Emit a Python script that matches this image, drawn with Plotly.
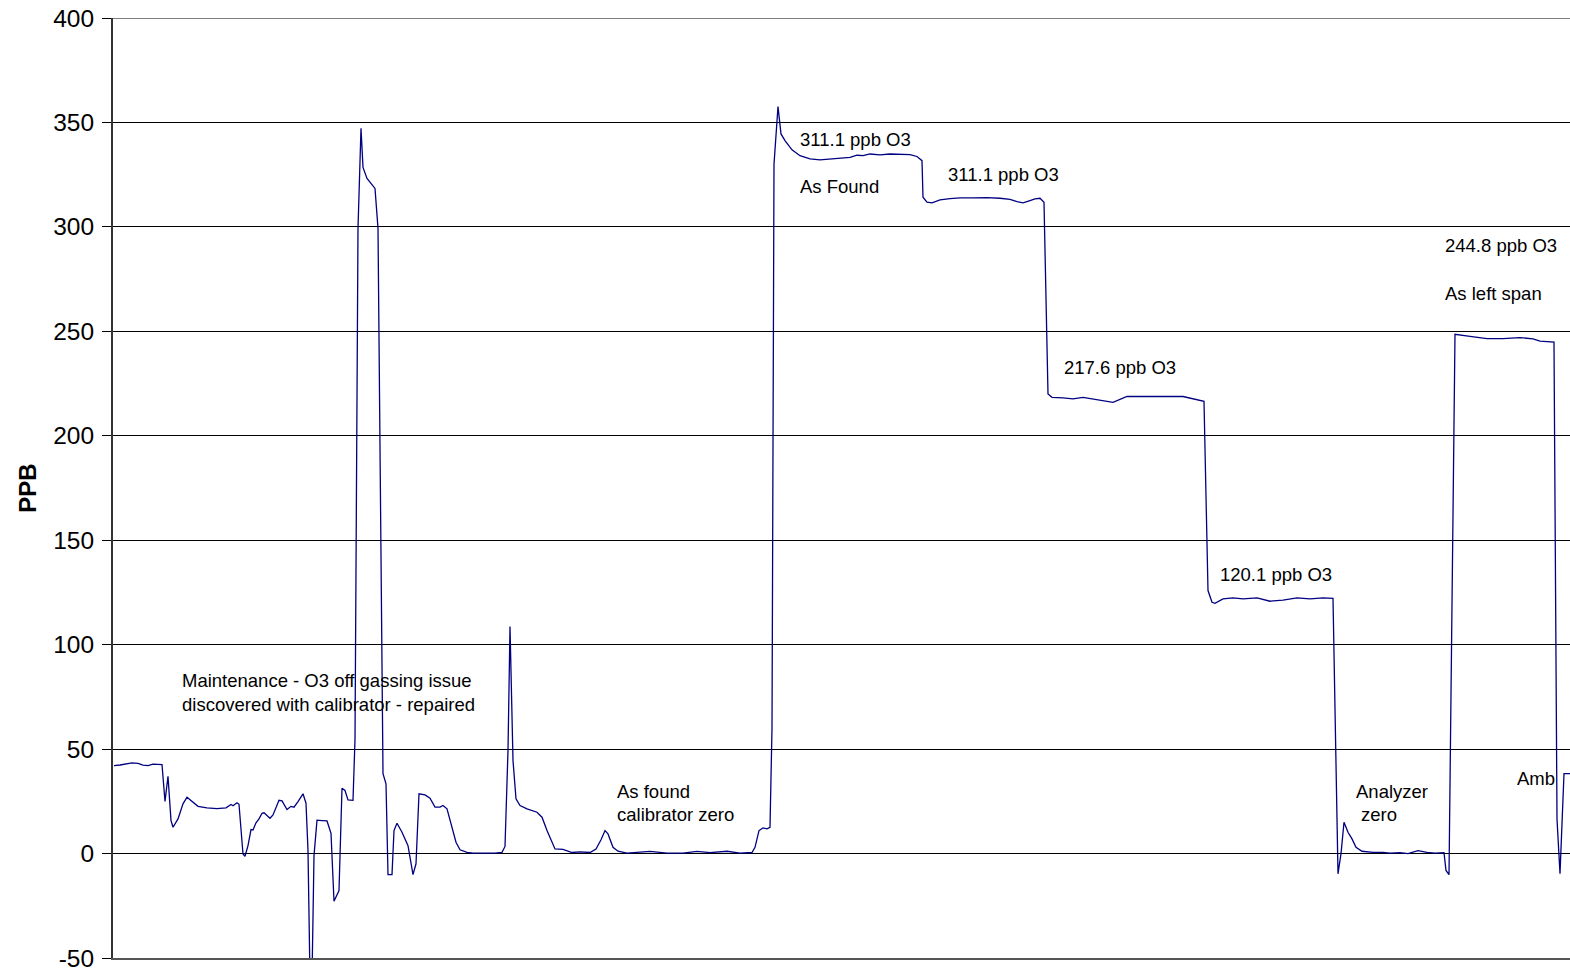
import plotly.graph_objects as go

# Ozone analyzer trace during calibration (sample position vs. reading in ppb)
t = [1, 7, 19, 25, 30, 35, 40, 49, 52, 55, 58, 60, 65, 70, 74, 79, 85, 94, 104, 113,
     118, 120, 124, 126, 130, 132, 135, 138, 140, 143, 146, 149, 151, 154, 157, 160,
     163, 166, 169, 174, 178, 181, 185, 190, 193, 195, 197, 199, 201, 204, 209, 214,
     218, 221, 226, 229, 232, 235, 240, 242, 245, 248, 250, 254, 262, 265, 270, 273,
     275, 279, 281, 284, 289, 295, 300, 303, 306, 312, 317, 322, 327, 330, 334, 339,
     343, 347, 354, 360, 374, 382, 389, 392, 395, 397, 400, 403, 407, 414, 424, 429,
     434, 438, 442, 450, 459, 467, 477, 483, 488, 492, 495, 500, 505, 514, 527, 537,
     554, 570, 584, 597, 614, 627, 639, 642, 646, 650, 654, 657, 659, 661, 665, 668,
     672, 679, 687, 697, 707, 717, 727, 737, 744, 750, 757, 767, 777, 787, 797, 804,
     809, 810, 814, 819, 827, 837, 847, 860, 874, 887, 897, 904, 910, 917, 922, 927,
     930, 931, 935, 939, 950, 960, 970, 984, 1000, 1014, 1027, 1050, 1070, 1084, 1090,
     1091, 1095, 1099, 1102, 1110, 1120, 1130, 1144, 1157, 1170, 1184, 1197, 1210,
     1220, 1225, 1228, 1231, 1235, 1239, 1243, 1249, 1260, 1270, 1277, 1287, 1295,
     1305, 1314, 1322, 1331, 1333, 1336, 1342, 1357, 1374, 1390, 1407, 1420, 1427,
     1441, 1444, 1447, 1451, 1457]

ppb = [42.1, 42.4, 43.4, 43.2, 42.3, 42.1, 42.8, 42.6, 25.0, 37.0, 15.8, 12.6, 16.6,
       23.8, 27.0, 25.0, 22.6, 21.9, 21.5, 21.9, 23.5, 22.9, 24.3, 23.6, -0.2, -1.3,
       3.8, 11.5, 11.3, 14.7, 16.6, 19.3, 19.5, 18.2, 16.9, 18.5, 22.5, 25.5, 25.2,
       21.1, 22.6, 22.2, 24.9, 28.6, 24.1, 1.4, -60.0, -60.0, -1.0, 16.0, 15.8, 15.6,
       9.7, -22.8, -17.7, 31.3, 30.2, 25.7, 25.5, 54.6, 299.3, 347.2, 328.5, 323.2,
       318.4, 299.3, 38.2, 33.4, -10.1, -10.1, 11.0, 14.5, 10.2, 3.8, -10.1, -4.9,
       28.6, 28.1, 26.5, 22.2, 22.2, 23.0, 21.4, 12.6, 5.4, 1.8, 0.6, 0.2, 0.0, 0.2,
       0.6, 3.4, 49.3, 108.7, 44.5, 26.2, 23.0, 21.4, 19.8, 17.4, 11.0, 6.2, 2.2, 2.0,
       0.5, 0.8, 0.5, 2.2, 6.6, 11.0, 9.4, 3.0, 1.1, 0.2, 0.5, 1.0, 0.2, 0.2, 1.0, 0.4,
       1.1, 0.2, 0.5, 3.0, 11.0, 12.3, 11.8, 12.6, 60.0, 330.0, 357.6, 344.5, 341.3,
       336.9, 334.1, 332.6, 332.1, 332.6, 333.0, 333.3, 334.3, 334.1, 334.9, 334.5,
       334.9, 334.9, 334.6, 333.7, 331.7, 314.2, 311.8, 311.5, 312.9, 313.5, 313.9,
       313.9, 314.0, 313.7, 313.2, 312.1, 311.5, 312.6, 313.4, 313.7, 312.6, 311.8,
       220.0, 218.4, 218.1, 217.7, 218.4, 217.3, 216.0, 218.8, 218.9, 218.8, 218.8,
       217.2, 216.8, 216.5, 125.9, 120.3, 119.8, 121.9, 122.4, 121.9, 122.4, 120.8,
       121.3, 122.4, 121.9, 122.4, 122.2, -9.7, 0.0, 15.0, 10.2, 7.0, 3.0, 1.1, 0.6,
       0.6, 0.2, 0.4, 0.0, 1.4, 0.6, 0.2, 0.4, -8.1, -10.1, 248.6, 247.6, 246.5, 246.5,
       247.0, 246.4, 245.3, 244.9, 16.4, -9.6, 38.3, 38.3]

y_ticks = [-50, 0, 50, 100, 150, 200, 250, 300, 350, 400]
y_tick_text = ["-50", "0", "50", "100", "150", "200", "250", "300", "350", "400"]

# Event notes: (x position, y level, text)
notes = [
    (67, 82.8, "Maintenance - O3 off gassing issue"),
    (67, 71.3, "discovered with calibrator - repaired"),
    (502, 29.7, "As found"),
    (502, 18.7, "calibrator zero"),
    (685, 341.8, "311.1 ppb O3"),
    (685, 319.3, "As Found"),
    (833, 325.1, "311.1 ppb O3"),
    (949, 232.6, "217.6 ppb O3"),
    (1105, 133.5, "120.1 ppb O3"),
    (1241, 29.7, "Analyzer"),
    (1246, 18.7, "zero"),
    (1330, 291.0, "244.8 ppb O3"),
    (1330, 268.1, "As left span"),
    (1402, 35.9, "Amb"),
]

FONT = "Liberation Sans, Arial, sans-serif"

fig = go.Figure()
fig.add_trace(go.Scatter(
    x=t, y=ppb, mode="lines",
    line=dict(color="#000080", width=1.3),
    hoverinfo="skip", showlegend=False,
))

for x, y, text in notes:
    fig.add_annotation(
        x=x, y=y, xref="x", yref="y", text=text, showarrow=False,
        xanchor="left", yanchor="middle",
        font=dict(family=FONT, size=18.5, color="#000000"),
    )

# top border of the plot area at the 400 level
fig.add_shape(type="line", xref="paper", yref="y", x0=0, x1=1, y0=400, y1=400,
              line=dict(color="#000000", width=1))

fig.update_layout(
    width=1570, height=972,
    margin=dict(l=113, r=0, t=18, b=14),
    paper_bgcolor="white", plot_bgcolor="white",
    showlegend=False,
)

fig.update_xaxes(
    range=[0, 1457], showticklabels=False, ticks="",
    showgrid=False, zeroline=False,
    showline=True, linecolor="#555555", linewidth=2,
)

fig.update_yaxes(
    range=[-50, 400], tickvals=y_ticks, ticktext=y_tick_text,
    ticks="outside", ticklen=9, tickcolor="#000000", tickwidth=1,
    ticklabelstandoff=3,
    tickfont=dict(family=FONT, size=24.5, color="#000000"),
    showgrid=True, gridcolor="#000000", gridwidth=1,
    zeroline=True, zerolinecolor="#000000", zerolinewidth=1,
    showline=True, linecolor="#333333", linewidth=2,
    title=dict(text="<b>PPB</b>", font=dict(family=FONT, size=24, color="#000000"),
               standoff=10),
)

fig.write_html("out.html")
